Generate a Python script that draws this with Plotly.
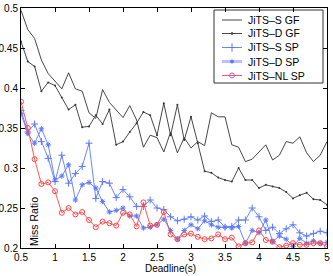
import plotly.graph_objects as go

deadline = [0.5, 0.6, 0.7, 0.8, 0.9, 1.0, 1.1, 1.2, 1.3, 1.4, 1.5, 1.6, 1.7, 1.8, 1.9,
            2.0, 2.1, 2.2, 2.3, 2.4, 2.5, 2.6, 2.7, 2.8, 2.9, 3.0, 3.1, 3.2, 3.3, 3.4,
            3.5, 3.6, 3.7, 3.8, 3.9, 4.0, 4.1, 4.2, 4.3, 4.4, 4.5, 4.6, 4.7, 4.8, 4.9, 5.0]

jits_s_gf = [0.497, 0.473, 0.462, 0.435, 0.418, 0.408, 0.399, 0.419, 0.399, 0.396,
             0.369, 0.362, 0.398, 0.382, 0.372, 0.363, 0.378, 0.360, 0.326, 0.341,
             0.338, 0.320, 0.345, 0.319, 0.338, 0.325, 0.333, 0.328, 0.369, 0.364,
             0.364, 0.329, 0.326, 0.308, 0.311, 0.320, 0.329, 0.310, 0.316, 0.333,
             0.331, 0.339, 0.319, 0.308, 0.316, 0.333]

jits_d_gf = [0.458, 0.433, 0.427, 0.396, 0.407, 0.403, 0.388, 0.373, 0.379, 0.351,
             0.352, 0.366, 0.355, 0.373, 0.329, 0.333, 0.345, 0.356, 0.370, 0.366,
             0.341, 0.381, 0.341, 0.379, 0.335, 0.364, 0.331, 0.296, 0.294, 0.288,
             0.285, 0.283, 0.300, 0.285, 0.285, 0.275, 0.279, 0.277, 0.275, 0.270,
             0.262, 0.266, 0.269, 0.261, 0.260, 0.254]

jits_s_sp = [0.372, 0.345, 0.355, 0.333, 0.312, 0.283, 0.316, 0.281, 0.293, 0.302,
             0.331, 0.262, 0.283, 0.281, 0.263, 0.273, 0.264, 0.252, 0.252, 0.260,
             0.250, 0.248, 0.239, 0.234, 0.236, 0.239, 0.235, 0.240, 0.233, 0.235,
             0.226, 0.227, 0.235, 0.235, 0.250, 0.239, 0.222, 0.226, 0.218, 0.224,
             0.229, 0.219, 0.215, 0.218, 0.221, 0.219]

jits_d_sp = [0.368, 0.343, 0.331, 0.349, 0.329, 0.285, 0.290, 0.304, 0.260, 0.279,
             0.282, 0.275, 0.258, 0.245, 0.247, 0.250, 0.240, 0.240, 0.225, 0.226,
             0.229, 0.236, 0.222, 0.211, 0.222, 0.229, 0.224, 0.234, 0.229, 0.226,
             0.226, 0.225, 0.227, 0.206, 0.222, 0.219, 0.235, 0.208, 0.215, 0.211,
             0.202, 0.212, 0.206, 0.209, 0.206, 0.207]

jits_nl_sp = [0.383, 0.350, 0.311, 0.280, 0.282, 0.271, 0.244, 0.250, 0.242, 0.245,
              0.235, 0.226, 0.233, 0.231, 0.228, 0.244, 0.242, 0.227, 0.257, 0.228,
              0.229, 0.245, 0.217, 0.211, 0.217, 0.218, 0.214, 0.211, 0.212, 0.217,
              0.211, 0.213, 0.202, 0.206, 0.207, 0.222, 0.210, 0.208, 0.201, 0.203,
              0.206, 0.204, 0.204, 0.206, 0.206, 0.202]

series_names = ["JiTS–S GF", "JiTS–D GF", "JiTS–S SP", "JiTS–D SP", "JiTS–NL SP"]

x_ticks = [0.5, 1, 1.5, 2, 2.5, 3, 3.5, 4, 4.5, 5]
x_ticklabels = ["0.5", "1", "1.5", "2", "2.5", "3", "3.5", "4", "4.5", "5"]
y_ticks = [0.2, 0.25, 0.3, 0.35, 0.4, 0.45, 0.5]
y_ticklabels = ["0.2", "0.25", "0.3", "0.35", "0.4", "0.45", "0.5"]

BLACK = "#333333"
BLUE = "#5b78ff"
RED = "#ff4444"
FONT = "Liberation Sans, Arial, sans-serif"

W, H = 333, 276
ML, MR, MT, MB = 21, 6, 8, 28
PW, PH = W - ML - MR, H - MT - MB


def px(xp):
    return (xp - ML) / PW


def py(yp):
    return (H - MB - yp) / PH


styles = [
    dict(mode="lines", line=dict(color=BLACK, width=0.9)),
    dict(mode="lines+markers", line=dict(color=BLACK, width=0.9),
         marker=dict(symbol="circle", size=2, color=BLACK)),
    dict(mode="lines+markers", line=dict(color=BLUE, width=0.9),
         marker=dict(symbol="cross-thin", size=5, line=dict(color=BLUE, width=1))),
    dict(mode="lines+markers", line=dict(color=BLUE, width=0.9),
         marker=dict(symbol="asterisk", size=4.5, line=dict(color=BLUE, width=1))),
    dict(mode="lines+markers", line=dict(color=RED, width=0.9),
         marker=dict(symbol="circle-open", size=5, line=dict(color=RED, width=1))),
]

fig = go.Figure()
for name, ys, st in zip(series_names,
                        [jits_s_gf, jits_d_gf, jits_s_sp, jits_d_sp, jits_nl_sp],
                        styles):
    fig.add_trace(go.Scatter(x=deadline, y=ys, name=name, showlegend=False, **st))

# Hand-built legend (MATLAB-style compact box)
leg_rows_y = [20, 33.5, 47.5, 61.5, 75.5]
leg_lines = [
    dict(color=BLACK, width=0.9),
    dict(color=BLACK, width=0.9),
    dict(color=BLUE, width=0.9),
    dict(color="#b4c2ff", width=3),
    dict(color=RED, width=0.9),
]
leg_markers = [
    None,
    dict(symbol="circle", size=2.5, color=BLACK),
    dict(symbol="cross-thin", size=6, line=dict(color=BLUE, width=1)),
    dict(symbol="circle", size=4, color=BLUE),
    dict(symbol="circle-open", size=5, line=dict(color=RED, width=1)),
]
for name, yy, ln, mk in zip(series_names, leg_rows_y, leg_lines, leg_markers):
    x0, x1 = px(222), px(242)
    fig.add_trace(go.Scatter(x=[x0, x1], y=[py(yy)] * 2, mode="lines", line=ln,
                             xaxis="x2", yaxis="y2", showlegend=False, hoverinfo="skip"))
    if mk is not None:
        fig.add_trace(go.Scatter(x=[(x0 + x1) / 2], y=[py(yy)], mode="markers",
                                 marker=mk, xaxis="x2", yaxis="y2",
                                 showlegend=False, hoverinfo="skip"))
    fig.add_annotation(x=px(246), y=py(yy), xref="paper", yref="paper",
                       text=name, showarrow=False, xanchor="left", yanchor="middle",
                       font=dict(size=10.5, color="black", family=FONT))

fig.add_shape(type="rect", xref="paper", yref="paper",
              x0=px(214), x1=px(323), y0=py(83), y1=py(10),
              line=dict(color="#333333", width=1), fillcolor="white", layer="below")

fig.add_annotation(x=px(170), y=py(268), xref="paper", yref="paper",
                   text="Deadline(s)", showarrow=False, xanchor="center", yanchor="middle",
                   font=dict(size=10, color="black", family=FONT))
fig.add_annotation(x=px(34), y=py(222), xref="paper", yref="paper",
                   text="Miss Ratio", showarrow=False, textangle=-90,
                   xanchor="center", yanchor="middle",
                   font=dict(size=10.5, color="black", family=FONT))

axis_common = dict(showline=True, linecolor="black", linewidth=1, mirror="ticks",
                   ticks="inside", ticklen=4, tickcolor="black", tickwidth=1,
                   showgrid=False, zeroline=False, automargin=False,
                   tickfont=dict(size=10, color="black", family=FONT))

fig.update_layout(
    width=W, height=H,
    margin=dict(l=ML, r=MR, t=MT, b=MB, pad=0, autoexpand=False),
    paper_bgcolor="white", plot_bgcolor="white",
    font=dict(family=FONT, size=10, color="black"),
    xaxis=dict(range=[0.5, 5], tickvals=x_ticks, ticktext=x_ticklabels, **axis_common),
    yaxis=dict(range=[0.2, 0.5], tickvals=y_ticks, ticktext=y_ticklabels, **axis_common),
    xaxis2=dict(overlaying="x", range=[0, 1], visible=False, fixedrange=True),
    yaxis2=dict(overlaying="y", range=[0, 1], visible=False, fixedrange=True),
    showlegend=False,
)

fig.write_html("out.html", config={"displayModeBar": False},
               post_script="document.body.style.margin='0';document.body.style.overflow='hidden';")
